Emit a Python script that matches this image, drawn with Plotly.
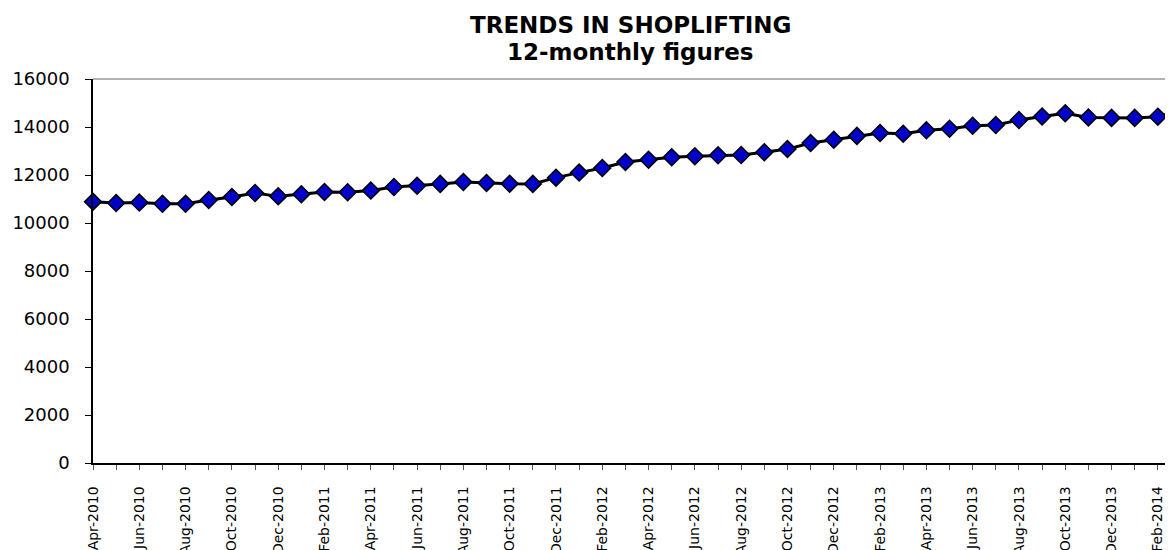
import plotly.graph_objects as go

months = [
    "Apr-2010", "May-2010", "Jun-2010", "Jul-2010", "Aug-2010", "Sep-2010",
    "Oct-2010", "Nov-2010", "Dec-2010", "Jan-2011", "Feb-2011", "Mar-2011",
    "Apr-2011", "May-2011", "Jun-2011", "Jul-2011", "Aug-2011", "Sep-2011",
    "Oct-2011", "Nov-2011", "Dec-2011", "Jan-2012", "Feb-2012", "Mar-2012",
    "Apr-2012", "May-2012", "Jun-2012", "Jul-2012", "Aug-2012", "Sep-2012",
    "Oct-2012", "Nov-2012", "Dec-2012", "Jan-2013", "Feb-2013", "Mar-2013",
    "Apr-2013", "May-2013", "Jun-2013", "Jul-2013", "Aug-2013", "Sep-2013",
    "Oct-2013", "Nov-2013", "Dec-2013", "Jan-2014", "Feb-2014", "Mar-2014",
]

shoplifting = [
    10890, 10830, 10850, 10800, 10800, 10960,
    11080, 11250, 11110, 11200, 11290, 11280,
    11350, 11500, 11550, 11630, 11710, 11670,
    11640, 11630, 11890, 12100, 12290, 12540,
    12640, 12740, 12780, 12820, 12830, 12950,
    13080, 13330, 13470, 13630, 13750, 13720,
    13860, 13930, 14050, 14080, 14290, 14440,
    14570, 14400, 14380, 14380, 14430, 14700,
]

tick_labels = [m if i % 2 == 0 else "" for i, m in enumerate(months)]
y_ticks = [0, 2000, 4000, 6000, 8000, 10000, 12000, 14000, 16000]
title_line1 = "TRENDS IN SHOPLIFTING"
title_line2 = "12-monthly figures"

FONT = "DejaVu Sans"

fig = go.Figure()
fig.add_trace(go.Scatter(
    x=months,
    y=shoplifting,
    mode="lines+markers",
    line=dict(color="black", width=3),
    marker=dict(symbol="diamond", size=13, color="#0000C8",
                line=dict(color="black", width=1.5)),
    cliponaxis=False,
    showlegend=False,
))

fig.update_layout(
    width=1173,
    height=550,
    margin=dict(l=85, r=0, t=71, b=95),
    paper_bgcolor="white",
    plot_bgcolor="white",
    xaxis=dict(
        type="category",
        range=[0, 47.0],
        tickmode="array",
        tickvals=months,
        ticktext=tick_labels,
        tickangle=-90,
        ticks="outside",
        ticklen=5,
        tickcolor="#555",
        tickwidth=1,
        showline=True,
        linecolor="black",
        linewidth=1.5,
        showgrid=False,
        zeroline=False,
        tickfont=dict(family=FONT, size=14, color="black"),
        ticklabelstandoff=11,
    ),
    yaxis=dict(
        range=[0, 16000],
        tickmode="array",
        tickvals=y_ticks,
        tickformat="d",
        ticks="outside",
        ticklen=6,
        tickcolor="black",
        showline=True,
        linecolor="black",
        linewidth=1.5,
        showgrid=False,
        zeroline=False,
        tickfont=dict(family=FONT, size=18, color="black"),
        ticklabelstandoff=12,
    ),
    shapes=[dict(type="line", xref="paper", yref="paper", x0=0, x1=1, y0=1, y1=1,
                 line=dict(color="#666", width=1.2))],
    annotations=[
        dict(text="<b>" + title_line1 + "</b>", xref="paper", yref="paper",
             x=0.4936, y=1.1406, xanchor="center", yanchor="middle",
             showarrow=False, font=dict(family=FONT, size=23, color="black")),
        dict(text="<b>" + title_line2 + "</b>", xref="paper", yref="paper",
             x=0.4936, y=1.0703, xanchor="center", yanchor="middle",
             showarrow=False, font=dict(family=FONT, size=23, color="black")),
    ],
)

fig.write_html("out.html", config={"displayModeBar": False})
